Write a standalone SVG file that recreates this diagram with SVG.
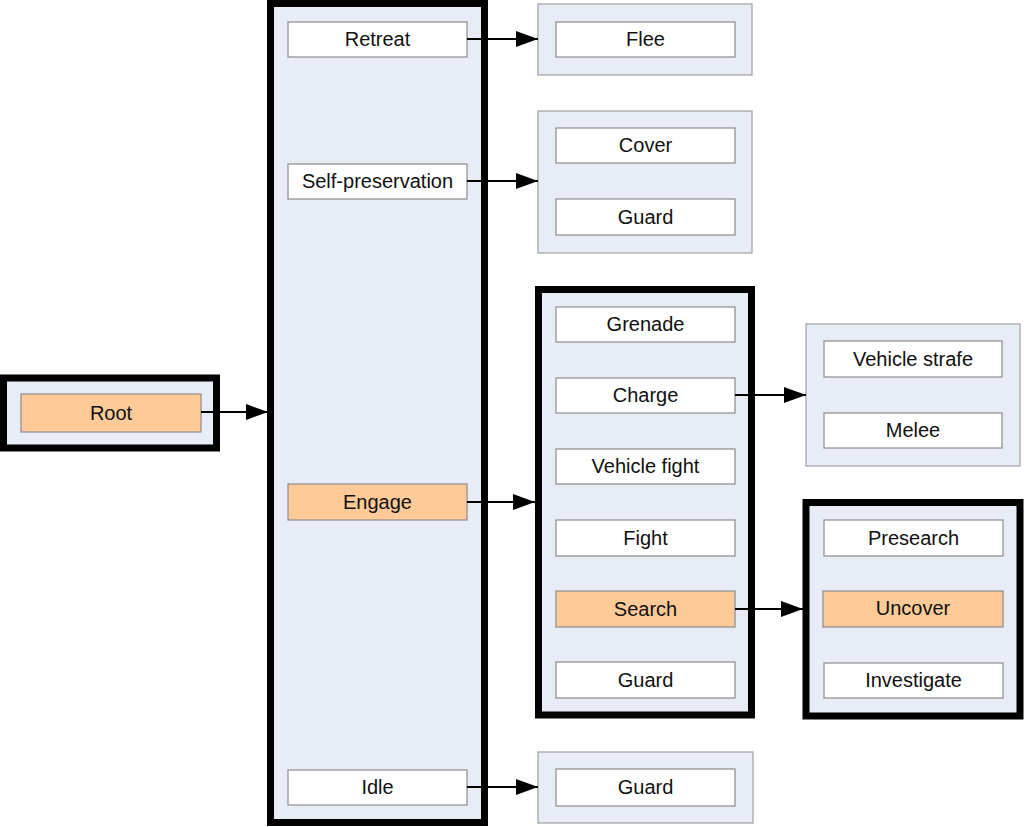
<svg xmlns="http://www.w3.org/2000/svg" width="1024" height="827" viewBox="0 0 1024 827">
<style>
.bg{fill:#ffffff}
.grp{fill:#e8ecf7;stroke:#000;stroke-width:7}
.box{fill:#e8ecf7;stroke:#a0a0a0;stroke-width:1.2}
.n{fill:#ffffff;stroke:#8c8c8c;stroke-width:1.2}
.a{fill:#fecb98;stroke:#8c8c8c;stroke-width:1.2}
text{font-family:"Liberation Sans",Arial,sans-serif;font-size:20px;fill:#111;text-anchor:middle}
.c{stroke:#000;stroke-width:2;fill:none;marker-end:url(#ah)}
</style>
<defs>
<marker id="ah" markerUnits="userSpaceOnUse" markerWidth="24" markerHeight="18" viewBox="0 0 24 18" refX="23" refY="9" orient="auto">
<path d="M1,1 L23,9 L1,17 Z" fill="#000"/>
</marker>
</defs>
<rect class="bg" x="0" y="0" width="1024" height="827"/>
<g id="root-group">
<rect class="grp" x="3.5" y="378" width="213" height="70"/>
<g id="root"><rect class="a" x="21" y="394" width="180" height="38"/><text x="111" y="420">Root</text></g>
</g>
<g id="main-group">
<rect class="grp" x="270.5" y="3.5" width="214" height="819"/>
<g id="retreat"><rect class="n" x="288" y="22" width="179" height="35"/><text x="377.5" y="46">Retreat</text></g>
<g id="self-preservation"><rect class="n" x="288" y="164" width="179" height="35"/><text x="377.5" y="188">Self-preservation</text></g>
<g id="engage"><rect class="a" x="288" y="484" width="179" height="36"/><text x="377.5" y="509">Engage</text></g>
<g id="idle"><rect class="n" x="288" y="770" width="179" height="35"/><text x="377.5" y="794">Idle</text></g>
</g>
<g id="flee-group">
<rect class="box" x="538" y="4" width="214" height="71"/>
<g id="flee"><rect class="n" x="556" y="22" width="179" height="35"/><text x="645.5" y="46">Flee</text></g>
</g>
<g id="cover-group">
<rect class="box" x="538" y="111" width="214" height="142"/>
<g id="cover"><rect class="n" x="556" y="128" width="179" height="35"/><text x="645.5" y="152">Cover</text></g>
<g id="guard1"><rect class="n" x="556" y="199" width="179" height="36"/><text x="645.5" y="224">Guard</text></g>
</g>
<g id="engage-group">
<rect class="grp" x="538.5" y="289.5" width="213" height="425.5"/>
<g id="grenade"><rect class="n" x="556" y="307" width="179" height="35"/><text x="645.5" y="331">Grenade</text></g>
<g id="charge"><rect class="n" x="556" y="378" width="179" height="35"/><text x="645.5" y="402">Charge</text></g>
<g id="vehicle-fight"><rect class="n" x="556" y="449" width="179" height="35"/><text x="645.5" y="473">Vehicle fight</text></g>
<g id="fight"><rect class="n" x="556" y="520" width="179" height="36"/><text x="645.5" y="545">Fight</text></g>
<g id="search"><rect class="a" x="556" y="591" width="179" height="36"/><text x="645.5" y="616">Search</text></g>
<g id="guard2"><rect class="n" x="556" y="662" width="179" height="36"/><text x="645.5" y="687">Guard</text></g>
</g>
<g id="charge-group">
<rect class="box" x="806" y="324" width="214" height="142"/>
<g id="vehicle-strafe"><rect class="n" x="824" y="341" width="178" height="36"/><text x="913" y="366">Vehicle strafe</text></g>
<g id="melee"><rect class="n" x="824" y="413" width="178" height="35"/><text x="913" y="437">Melee</text></g>
</g>
<g id="search-group">
<rect class="grp" x="806" y="502.5" width="214" height="213.5"/>
<g id="presearch"><rect class="n" x="824" y="520" width="179" height="36"/><text x="913.5" y="545">Presearch</text></g>
<g id="uncover"><rect class="a" x="823" y="591" width="180" height="36"/><text x="913" y="615">Uncover</text></g>
<g id="investigate"><rect class="n" x="824" y="663" width="179" height="35"/><text x="913.5" y="687">Investigate</text></g>
</g>
<g id="idle-group">
<rect class="box" x="538" y="752" width="215" height="71"/>
<g id="guard3"><rect class="n" x="556" y="769" width="179" height="37"/><text x="645.5" y="794">Guard</text></g>
</g>
<g id="connectors">
<path class="c" d="M201,412 H268"/>
<path class="c" d="M467,39 H538"/>
<path class="c" d="M467,181 H538"/>
<path class="c" d="M467,502 H535"/>
<path class="c" d="M467,787 H538"/>
<path class="c" d="M735,395 H806"/>
<path class="c" d="M735,609 H803"/>
</g>
</svg>
